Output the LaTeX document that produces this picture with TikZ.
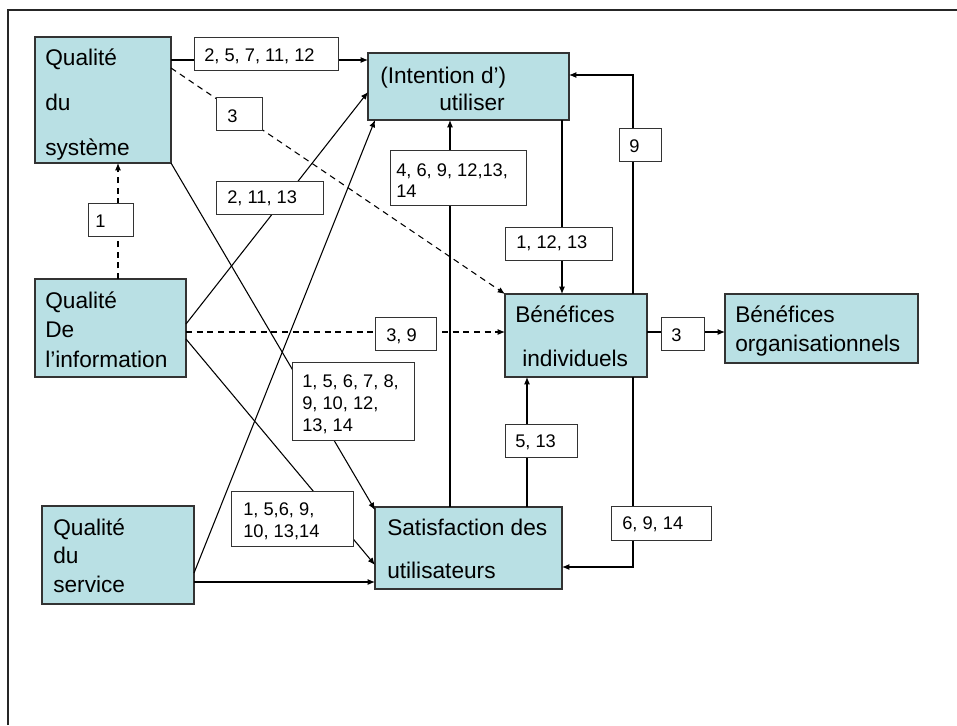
\documentclass[tikz,border=0pt]{standalone}
\usepackage{fontspec}
\setmainfont{Liberation Sans}
\usetikzlibrary{arrows.meta,calc}
\definecolor{boxfill}{RGB}{185,224,228}
\begin{document}
\begin{tikzpicture}[x=0.75pt,y=-0.75pt,
  concept/.style={rectangle,draw=black!80,line width=0.8pt,fill=boxfill,inner sep=0pt,outer sep=0pt},
  tag/.style={rectangle,draw=black!80,line width=0.7pt,fill=white,inner sep=0pt,outer sep=0pt},
  bt/.style={inner sep=0pt,anchor=base west,font=\fontsize{17}{20}\selectfont},
  lt/.style={inner sep=0pt,anchor=base west,font=\fontsize{13.7}{16}\selectfont},
  conn/.style={line width=0.8pt,-{Latex[length=5.5pt,width=4.5pt]}},
  dconn/.style={conn,dash pattern=on 4.5pt off 3.5pt}]
\useasboundingbox (0,0) rectangle (957,725);

% frame
\draw[line width=1.2pt,black!85] (8,725) -- (8,10) -- (957,10);

% concept boxes
\node[concept,minimum width=102pt,minimum height=94.5pt] (sys) at (103,100) {};
\node[concept,minimum width=150.75pt,minimum height=50.25pt] (int) at (468.5,86.5) {};
\node[concept,minimum width=113.25pt,minimum height=73.5pt] (info) at (110.5,328) {};
\node[concept,minimum width=114pt,minimum height=73.5pt] (serv) at (118,555) {};
\node[concept,minimum width=140.25pt,minimum height=61.5pt] (sat) at (468.5,548) {};
\node[concept,minimum width=106.5pt,minimum height=62.25pt] (bi) at (576,335.5) {};
\node[concept,minimum width=144.75pt,minimum height=51.75pt] (bo) at (821.5,328.5) {};

% box texts
\node[bt] (sys1) at (45,65) {Qualité};
\node[bt] (sys2) at (45,110) {du};
\node[bt] (sys3) at (45,155) {système};
\node[bt] (info1) at (45,308) {Qualité};
\node[bt] (info2) at (45,337) {De};
\node[bt] (info3) at (45,367) {l’information};
\node[bt] (serv1) at (53,535) {Qualité};
\node[bt] (serv2) at (53,563) {du};
\node[bt] (serv3) at (53,592) {service};
\node[bt] (int1) at (380,83) {(Intention d’)};
\node[bt] (int2) at (439,110) {utiliser};
\node[bt] (sat1) at (387,535) {Satisfaction des};
\node[bt] (sat2) at (387,578) {utilisateurs};
\node[bt] (bi1) at (515,322) {Bénéfices};
\node[bt] (bi2) at (522,366) {individuels};
\node[bt] (bo1) at (735,322) {Bénéfices};
\node[bt] (bo2) at (735,351) {organisationnels};

% connectors
\draw[conn] ($(sys.north east)+(0,23)$) -- ($(int.north west)+(0,7)$);
\draw[dconn] ($(sys.north east)+(0,31)$) -- (bi.north west);
\draw[conn] ($(info.north east)+(0,45)$) -- ($(int.north west)+(0,39)$);
\draw[conn] ($(serv.north east)+(0,67)$) -- ($(int.south west)+(7,0)$);
\draw[conn] (sys.south east) -- ($(sat.north west)+(0,3)$);
\draw[conn] ($(info.north east)+(0,60)$) -- ($(sat.north west)+(0,58)$);
\draw[conn] ($(serv.north east)+(0,76)$) -- ($(sat.north west)+(0,75)$);
\draw[dconn] ($(info.north east)+(0,53)$) -- ($(bi.north west)+(0,38)$);
\draw[dconn] ($(info.north west)+(83,0)$) -- ($(sys.south west)+(83,0)$);
\draw[conn] ($(sat.north west)+(75,0)$) -- ($(int.south west)+(82,0)$);
\draw[conn] ($(int.south west)+(194,0)$) -- ($(bi.north west)+(57,0)$);
\draw[conn] ($(bi.north west)+(128,0)$) |- ($(int.north east)+(0,22)$);
\draw[conn] ($(bi.south west)+(128,0)$) |- ($(sat.north east)+(0,60)$);
\draw[conn] ($(sat.north west)+(152,0)$) -- ($(bi.south west)+(22,0)$);
\draw[conn] ($(bi.north east)+(0,38)$) -- ($(bo.north west)+(0,38)$);

% study labels
\node[tag,minimum width=108pt,minimum height=24.75pt] (l1) at (266,53.5) {};
\node[tag,minimum width=34.5pt,minimum height=24.75pt] (l2) at (239,113.5) {};
\node[tag,minimum width=80.25pt,minimum height=24.75pt] (l3) at (269.5,197.5) {};
\node[tag,minimum width=33.75pt,minimum height=24.75pt] (l4) at (110.5,219.5) {};
\node[tag,minimum width=102pt,minimum height=41.25pt] (l5) at (458,177.5) {};
\node[tag,minimum width=31.5pt,minimum height=24.75pt] (l6) at (640,144.5) {};
\node[tag,minimum width=80.25pt,minimum height=24.75pt] (l7) at (558.5,243.5) {};
\node[tag,minimum width=45.75pt,minimum height=24.75pt] (l8) at (405.5,333.5) {};
\node[tag,minimum width=91.5pt,minimum height=58.5pt] (l9) at (353,401) {};
\node[tag,minimum width=91.5pt,minimum height=41.25pt] (l10) at (292,518.5) {};
\node[tag,minimum width=32.25pt,minimum height=24.75pt] (l11) at (682.5,333.5) {};
\node[tag,minimum width=54pt,minimum height=24.75pt] (l12) at (541,440.5) {};
\node[tag,minimum width=75pt,minimum height=25.5pt] (l13) at (661,523) {};

% label texts
\node[lt] (l1a) at (204,61) {2, 5, 7, 11, 12};
\node[lt] (l2a) at (227,122) {3};
\node[lt] (l3a) at (227,203) {2, 11, 13};
\node[lt] (l4a) at (95,227) {1};
\node[lt] (l5a) at (396,176) {4, 6, 9, 12,13,};
\node[lt] (l5b) at (396,197) {14};
\node[lt] (l6a) at (629,152) {9};
\node[lt] (l7a) at (516,248) {1, 12, 13};
\node[lt] (l8a) at (386,341) {3, 9};
\node[lt] (l9a) at (302,387) {1, 5, 6, 7, 8,};
\node[lt] (l9b) at (302,409) {9, 10, 12,};
\node[lt] (l9c) at (302,431) {13, 14};
\node[lt] (l10a) at (243,515) {1, 5,6, 9,};
\node[lt] (l10b) at (243,537) {10, 13,14};
\node[lt] (l11a) at (671,341) {3};
\node[lt] (l12a) at (515,447) {5, 13};
\node[lt] (l13a) at (622,529) {6, 9, 14};
\end{tikzpicture}
\end{document}
